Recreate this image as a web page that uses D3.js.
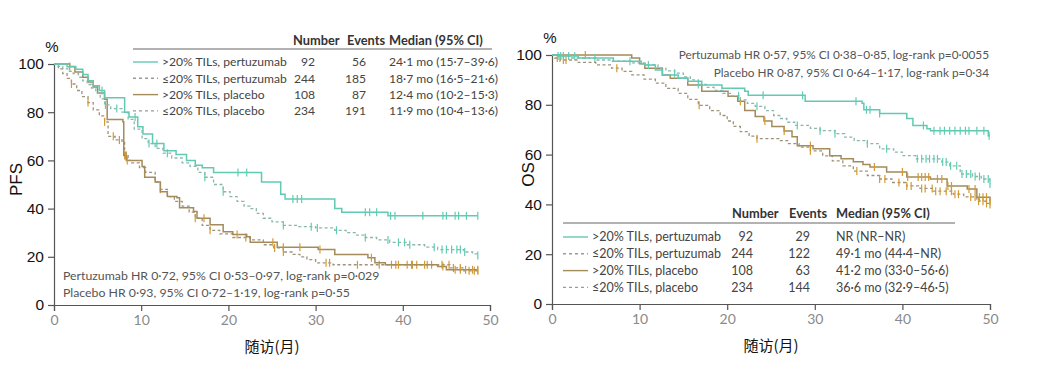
<!DOCTYPE html>
<html><head><meta charset="utf-8">
<script src="https://cdn.jsdelivr.net/npm/d3@7"></script>
<style>body{margin:0;background:#fff}svg{display:block}</style>
</head><body>
<svg id="c" width="1038" height="373"></svg>
<script>
// ---------- DATA ----------
const xTicks = [0, 10, 20, 30, 40, 50];
const yTicks = [0, 20, 40, 60, 80, 100];
const groupLabels = [">20% TILs, pertuzumab", "≤20% TILs, pertuzumab", ">20% TILs, placebo", "≤20% TILs, placebo"];
const groupNumbers = [92, 244, 108, 234];
const pfsEvents = [56, 185, 87, 191];
const pfsMedians = ["24·1 mo (15·7–39·6)", "18·7 mo (16·5–21·6)", "12·4 mo (10·2–15·3)", "11·9 mo (10·4–13·6)"];
const osEvents = [29, 122, 63, 144];
const osMedians = ["NR (NR–NR)", "49·1 mo (44·4–NR)", "41·2 mo (33·0–56·6)", "36·6 mo (32·9–46·5)"];
const pfsStats = ["Pertuzumab HR 0·72, 95% CI 0·53–0·97, log-rank p=0·029", "Placebo HR 0·93, 95% CI 0·72–1·19, log-rank p=0·55"];
const osStats = ["Pertuzumab HR 0·57, 95% CI 0·38–0·85, log-rank p=0·0055", "Placebo HR 0·87, 95% CI 0·64–1·17, log-rank p=0·34"];

// PFS, >20% TILs pertuzumab
const pfsHiPertT = [0,1.5,2.5,3.3,3.9,4.5,5.2,5.8,8.1,8.6,9.6,10.2,11.3,12.6,14,15.2,16.2,17,18.3,23.8,26,26.5,32.2,33,38.3];
const pfsHiPertS = [100,98.9,97.8,95.6,93,91,89,86,80,78,74,71,67,64,62.5,60,58,57,55,51,46,44,40,38.5,37];
const pfsHiPertC = [5.5,9.3,11.8,21.1,22.1,27.4,27.9,28.4,35.7,36.2,37,38.6,39.1,42.3,44.6,45,46,46.4,47.3,48.6];
// PFS, <=20% TILs pertuzumab
const pfsLoPertT = [0,0.5,1,1.6,2.2,2.8,3.3,3.8,4.3,4.8,5.3,5.8,6.5,7.8,8.5,9.2,10.1,10.8,11.6,12.5,13.5,14.7,15.6,16.5,17.3,18.3,19.4,20.2,21,21.8,22.5,23.2,24,25,26.3,28,30,32.2,33.5,34.7,35.7,37,38.5,40.5,42.5,44,47,48,48.5];
const pfsLoPertS = [100,99,98,97,96,94.5,93,91.5,90,88,85.5,83,81.5,80,77,73,69,67,65,63,61,59,57.5,55,53,50,47,45,43,41,40,38,36,34.5,33,32.5,32,31,30,29,28,27,26,25,24,23,22,21.2,20.5];
const pfsLoPertC = [5.9,7.2,10.9,13,17.3,19.4,26.3,29.5,30.2,32.4,35.7,38.3,39.5,40.2,40.8,43.6,44.5,45,45.6,46.2,46.6,47.1,48.6];
// PFS, >20% TILs placebo
const pfsHiPlaT = [0,1.8,2.4,3.3,3.9,4.5,5,5.8,6.1,7.9,8.0,8.3,10.1,10.4,11.6,12.2,13,14.1,14.4,16,16.4,17.9,19.4,20.5,22.1,22.5,25.6,30.3,32.2,36,36.8,38,44,45];
const pfsHiPlaS = [100,99,96.7,94.5,92.5,90.5,88,85.4,77,76,62,60,57.5,53,51,47,45,44.5,40.4,38.8,36,33.3,30.4,29.3,28.3,26,24,23,21,19.6,17.5,16.7,16,14.6];
const pfsHiPlaC = [1.8,8.2,8.4,17.2,21,25.1,26.3,28.2,30.5,36.4,39.5,41,42.5,44.6,46,46.6,47.2,48,48.6];
// PFS, <=20% TILs placebo
const pfsLoPlaT = [0,0.5,1,1.5,2,2.6,3.2,3.9,4.5,5.2,5.8,6.2,7,7.8,8.1,8.5,8.9,9.8,10.5,11.6,12.2,13,13.8,14.7,15.5,16.2,17,17.9,19,20.5,22.5,24,25.2,26.3,27.3,28.2,29,30,32,45.4,47];
const pfsLoPlaS = [100,98,96,94,91.7,89,86.5,84,81,78.5,76,70,68.5,67.5,62,60,59,57,55,51,48,45,43,41,38.5,36,33,31,29.5,28,27,25,23.7,22,21,20,18.8,17.5,16.7,15.4,14.2];
const pfsLoPlaC = [2,3.9,5.8,6.8,7.5,8.1,8.3,12.2,16.2,17.9,22,25.3,26.3,31.2,31.6,34.8,37.3,38.7,39.2,40.5,41.1,41.6,42.8,43.3,44.5,45.3,45.8,46.6,47.6,48.2,48.6];

// OS, >20% TILs pertuzumab
const osHiPertT = [0,0.8,3,7,10.2,10.6,11.8,12.6,14.4,15.5,17.1,19.4,22,22.4,28.9,35.4,35.6,37.4,40.5,41.2,42.8,43.2,49.8];
const osHiPertS = [100,99.6,98.8,97.5,96.5,96,94,92,90.7,89.5,88,86.6,85.4,83.8,81.4,80.6,78,76.5,74.5,71.7,70.4,69.6,67.6];
const osHiPertC = [1,2.6,4.9,8.9,11,24.1,28.6,34.7,35.9,36.3,37.4,42.4,43.6,44.3,44.8,45.4,46,46.6,47.2,47.6,48.5,49.3,49.9];
// OS, <=20% TILs pertuzumab
const osLoPertT = [0,0.7,2,5,6.8,9,10.6,12.1,13,14,15,15.8,16.7,17.6,18.5,19.5,20.5,21.5,22.3,23.2,24.3,25.3,26,26.8,27.7,29.5,30.6,32.3,33.4,34.5,36,37.4,39,40,41.5,44.5,45.4,46.6,48,49,50];
const osLoPertS = [100,99.6,98.8,98,97.5,96.8,96,94.7,93.6,92.7,91.2,90,88.2,87,85.8,84.6,83.6,82,80.6,79.4,77.7,75.7,74.5,73,71.7,70.5,69.6,68.4,67,65.6,64.4,62.3,61,59.6,58.3,57,55.5,52.2,51.2,50.2,48.2];
const osLoPertC = [0.7,1.3,1.9,14,16.7,21.3,23.4,28,30.6,32.3,36,38.2,41.7,42.2,42.7,43.1,43.6,44,44.6,45,45.5,46.2,46.8,47.3,47.8,48.3,48.8,49.3,49.8,50];
// OS, >20% TILs placebo
const osHiPlaT = [0,9.1,10,10.6,12.6,13.5,15.5,17.1,20.1,21.2,22,23.2,24.2,25.1,26.5,27.4,28,29.8,31.7,33,34.4,35.5,36.3,38.2,40.5,43.2,45.1,47.4,48.5,50];
const osHiPlaS = [100,98.8,96.5,94.7,92,90.7,88,85.4,83.4,81.4,77.7,75.3,73.5,71.3,69.5,67.2,63.6,62.3,59.5,58.3,57.1,56,55,53,51,50.2,47.4,46.2,42.9,41.3];
const osHiPlaC = [3.8,21.5,24.3,26.5,29.5,36.8,40,40.6,41.8,42.2,42.6,43,44,44.5,45.2,45.6,47.6,48.3,48.8,49.2,49.6,50];
// OS, <=20% TILs placebo
const osLoPlaT = [0,0.3,1,3,5,6.8,8,9.1,10.5,11.8,13,14.4,15.5,16.7,18,19.2,20,20.7,21.5,22.5,23.4,26,27,28.2,29.5,30.9,32,33.2,34.4,36,37.4,38.8,40.5,42,43.5,45.8,47,48.5,49.5,50];
const osLoPlaS = [100,98.8,98,97,96,94.7,93.4,92,90.3,88.7,86.6,84.6,82.2,79.8,77.7,75.7,73.5,71.3,69.2,67.4,66.4,65.6,64.4,63,61.5,59.5,57.5,55.5,53.4,51.6,50.2,48.8,47.4,46.4,45.3,44.1,43,41.3,40.4,40];
const osLoPlaC = [0.6,0.9,1.3,1.6,7.4,16.8,23.4,29.5,34.8,37.4,38,39.6,40.5,41,42.2,42.6,43.4,43.8,44.3,45,45.6,46,46.4,47.8,48.3,48.7,49.2,49.6,50];

// ---------- STYLE ----------
const teal = "#62c9b2", tealDash = "#8db6ab", brown = "#a38b5c", brownDash = "#9f937c";
const tealMark = "#5fcdb3", goldMark = "#d39a32";
const legendSample = [
  {stroke: teal, dash: null}, {stroke: "#9a9a9a", dash: "3,3"},
  {stroke: brown, dash: null}, {stroke: "#9a9a9a", dash: "3,3"}];
const lato = "Lato, 'Open Sans', sans-serif";
const arial = "'Liberation Sans', Arial, sans-serif";

const svg = d3.select("#c");

function panel(cfg) {
  const x = d3.scaleLinear().domain([0, 50]).range([cfg.x0, cfg.x1]);
  const y = d3.scaleLinear().domain([0, 100]).range([cfg.y0, cfg.y1]);
  const g = svg.append("g");

  // axes
  const ya = g.append("g").attr("transform", `translate(${cfg.x0},0)`)
    .call(d3.axisLeft(y).tickValues(yTicks).tickSize(6).tickPadding(4));
  ya.select(".domain").attr("stroke", "#555").attr("stroke-width", 1.2);
  ya.selectAll(".tick line").attr("stroke", "#555").attr("stroke-width", 1.2);
  ya.selectAll("text").attr("font-family", arial).attr("font-size", 15.5).attr("fill", "#111");

  const xa = g.append("g").attr("transform", `translate(0,${cfg.y0})`)
    .call(d3.axisBottom(x).tickValues(xTicks).tickSize(6).tickPadding(4));
  xa.select(".domain").attr("stroke", "#555").attr("stroke-width", 1.2);
  xa.selectAll(".tick line").attr("stroke", "#555").attr("stroke-width", 1.2);
  xa.selectAll("text").attr("font-family", lato).attr("font-size", 14).attr("fill", "#8a8a8a");

  // titles
  g.append("text").attr("x", cfg.x0 - 2).attr("y", cfg.y1 - 12).attr("text-anchor", "middle")
    .attr("font-family", arial).attr("font-size", 15).attr("fill", "#111").text("%");
  g.append("text").attr("transform", `translate(${cfg.yTitleX},${(cfg.y0 + cfg.y1) / 2 - 5}) rotate(-90)`)
    .attr("text-anchor", "middle").attr("font-family", arial).attr("font-size", 17).attr("fill", "#111").text(cfg.yTitle);
  g.append("text").attr("x", (cfg.x0 + cfg.x1) / 2).attr("y", cfg.y0 + 47).attr("text-anchor", "middle")
    .attr("font-family", "'Noto Sans CJK SC', sans-serif").attr("font-size", 15).attr("fill", "#111").text("随访(月)");

  // curves
  const line = d3.line().x(d => x(d[0])).y(d => y(d[1])).curve(d3.curveStepAfter);
  cfg.series.forEach(s => {
    const pts = s.T.map((t, i) => [t, s.S[i]]);
    pts.push([s.end, s.S[s.S.length - 1]]);
    g.append("path").datum(pts).attr("d", line).attr("fill", "none")
      .attr("stroke", s.color).attr("stroke-width", s.dash ? 1.3 : 1.5)
      .attr("stroke-dasharray", s.dash);
    const surv = t => s.S[Math.max(0, d3.bisectRight(s.T, t) - 1)];
    g.selectAll(null).data(s.C).join("line")
      .attr("x1", d => x(d)).attr("x2", d => x(d))
      .attr("y1", d => y(surv(d)) - 4).attr("y2", d => y(surv(d)) + 4)
      .attr("stroke", s.mark).attr("stroke-width", 1.2);
  });

  // legend
  const L = cfg.legend;
  const lg = g.append("g").attr("font-family", lato).attr("font-size", L.fs);
  lg.append("text").attr("x", L.numHead).attr("y", L.headY).attr("font-weight", 700).attr("font-size", 12.8).attr("fill", "#333").text("Number");
  lg.append("text").attr("x", L.evHead).attr("y", L.headY).attr("font-weight", 700).attr("font-size", 12.8).attr("fill", "#333").text("Events");
  lg.append("text").attr("x", L.medX).attr("y", L.headY).attr("font-weight", 700).attr("font-size", 12.8).attr("fill", "#333").text("Median (95% CI)");
  lg.append("line").attr("x1", L.ruleX0).attr("x2", L.ruleX1).attr("y1", L.ruleY).attr("y2", L.ruleY)
    .attr("stroke", "#666").attr("stroke-width", 1.2);
  groupLabels.forEach((lab, i) => {
    const yy = L.rowY0 + i * L.rowDy;
    lg.append("line").attr("x1", L.lineX0).attr("x2", L.lineX0 + 25).attr("y1", yy).attr("y2", yy)
      .attr("stroke", legendSample[i].stroke).attr("stroke-width", 1.4).attr("stroke-dasharray", legendSample[i].dash);
    lg.append("text").attr("x", L.lineX0 + 29).attr("y", yy).attr("dy", "0.35em").attr("fill", "#444").text(lab);
    lg.append("text").attr("x", L.numR).attr("y", yy).attr("dy", "0.35em").attr("text-anchor", "end").attr("fill", "#444").text(groupNumbers[i]);
    lg.append("text").attr("x", L.evR).attr("y", yy).attr("dy", "0.35em").attr("text-anchor", "end").attr("fill", "#444").text(cfg.events[i]);
    lg.append("text").attr("x", L.medX).attr("y", yy).attr("dy", "0.35em").attr("fill", "#444").text(cfg.medians[i]);
  });

  // stats text
  const st = g.append("g").attr("font-family", lato).attr("font-size", cfg.statFs).attr("fill", "#555");
  cfg.stats.forEach((t, i) => {
    st.append("text").attr("x", cfg.statX).attr("y", cfg.statY + i * cfg.statDy).attr("dy", "0.35em")
      .attr("text-anchor", cfg.statAnchor).text(t);
  });
}

panel({
  x0: 54, x1: 490, y0: 305, y1: 64, yTitle: "PFS", yTitleX: 22,
  series: [
    {T: pfsLoPlaT, S: pfsLoPlaS, C: pfsLoPlaC, end: 48.6, color: brownDash, dash: "3,2.5", mark: goldMark},
    {T: pfsHiPlaT, S: pfsHiPlaS, C: pfsHiPlaC, end: 48.6, color: brown, dash: null, mark: goldMark},
    {T: pfsLoPertT, S: pfsLoPertS, C: pfsLoPertC, end: 48.6, color: tealDash, dash: "3,2.5", mark: tealMark},
    {T: pfsHiPertT, S: pfsHiPertS, C: pfsHiPertC, end: 48.6, color: teal, dash: null, mark: tealMark}],
  events: pfsEvents, medians: pfsMedians,
  legend: {fs: 12.1, headY: 45, ruleY: 49, ruleX0: 133, ruleX1: 492, rowY0: 62, rowDy: 16.3, lineX0: 133,
    numHead: 293, evHead: 347, medX: 389, numR: 315, evR: 366},
  stats: pfsStats, statFs: 12.3, statX: 63, statY: 276, statDy: 16.5, statAnchor: "start"
});

panel({
  x0: 552, x1: 990, y0: 304, y1: 55, yTitle: "OS", yTitleX: 534,
  series: [
    {T: osLoPlaT, S: osLoPlaS, C: osLoPlaC, end: 50, color: brownDash, dash: "3,2.5", mark: goldMark},
    {T: osHiPlaT, S: osHiPlaS, C: osHiPlaC, end: 50, color: brown, dash: null, mark: goldMark},
    {T: osLoPertT, S: osLoPertS, C: osLoPertC, end: 50, color: tealDash, dash: "3,2.5", mark: tealMark},
    {T: osHiPertT, S: osHiPertS, C: osHiPertC, end: 50, color: teal, dash: null, mark: tealMark}],
  events: osEvents, medians: osMedians,
  legend: {fs: 12.5, headY: 218, ruleY: 223, ruleX0: 563, ruleX1: 955, rowY0: 237, rowDy: 16.8, lineX0: 563,
    numHead: 732, evHead: 789, medX: 836, numR: 753, evR: 810},
  stats: osStats, statFs: 11.8, statX: 989, statY: 55, statDy: 18, statAnchor: "end"
});
</script>
</body></html>
